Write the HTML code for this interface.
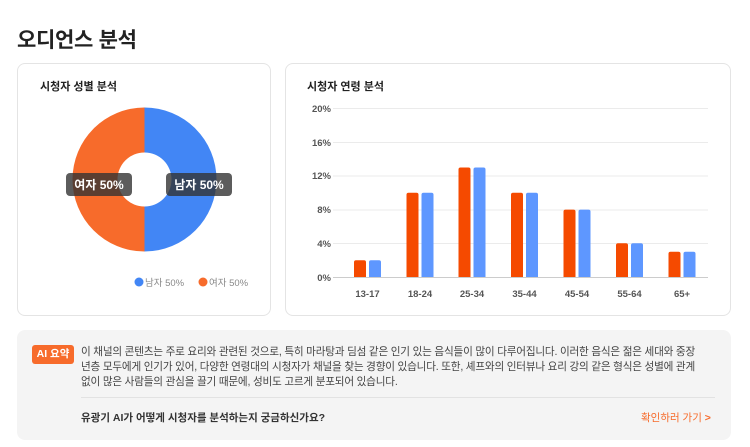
<!DOCTYPE html>
<html><head><meta charset="utf-8"><style>
*{margin:0;padding:0;box-sizing:border-box}
body{width:750px;height:447px;background:#fff;font-family:"Liberation Sans","Noto Sans CJK KR",sans-serif;color:#222;position:relative;overflow:hidden}
.abs{position:absolute}
.card{position:absolute;border:1px solid #e4e4e4;border-radius:8px;background:#fff}
</style></head><body>
<div class="abs" style="left:17px;top:24px;font-size:21px;font-weight:bold;color:#222;letter-spacing:-0.3px">오디언스 분석</div>
<div class="card" style="left:17px;top:63px;width:254px;height:253px"></div>
<div class="card" style="left:285px;top:63px;width:446px;height:253px"></div>
<div class="abs" style="left:40px;top:78px;font-size:11px;font-weight:bold">시청자 성별 분석</div>
<div class="abs" style="left:307px;top:78px;font-size:11px;font-weight:bold">시청자 연령 분석</div>
<svg class="abs" style="left:0;top:0" width="750" height="447">
<path d="M144.5 107.5 A72 72 0 0 1 144.5 251.5 L144.5 206.5 A27 27 0 0 0 144.5 152.5Z" fill="#4286f5"/>
<path d="M144.5 107.5 A72 72 0 0 0 144.5 251.5 L144.5 206.5 A27 27 0 0 1 144.5 152.5Z" fill="#f76b2b"/>
<rect x="66" y="173" width="66" height="23" rx="4" fill="#333" fill-opacity="0.8"/>
<rect x="166" y="173" width="66" height="23" rx="4" fill="#333" fill-opacity="0.8"/>
<text x="99" y="189" font-size="12" font-weight="bold" fill="#fff" text-anchor="middle">여자 50%</text>
<text x="199" y="189" font-size="12" font-weight="bold" fill="#fff" text-anchor="middle">남자 50%</text>
<circle cx="139" cy="282" r="4.5" fill="#4286f5"/>
<text x="145" y="286" font-size="9.5" fill="#888">남자 50%</text>
<circle cx="203" cy="282" r="4.5" fill="#f76b2b"/>
<text x="209" y="286" font-size="9.5" fill="#888">여자 50%</text>
<g stroke="#ebebeb" stroke-width="1">
<line x1="333" y1="108.5" x2="708" y2="108.5"/><line x1="333" y1="142.5" x2="708" y2="142.5"/>
<line x1="333" y1="176" x2="708" y2="176"/><line x1="333" y1="210" x2="708" y2="210"/>
<line x1="333" y1="243.5" x2="708" y2="243.5"/></g>
<line x1="333" y1="277.5" x2="708" y2="277.5" stroke="#ccc"/>
<g font-size="9.5" font-weight="bold" fill="#555" text-anchor="end">
<text x="331" y="112">20%</text><text x="331" y="146">16%</text><text x="331" y="179">12%</text>
<text x="331" y="213">8%</text><text x="331" y="247">4%</text><text x="331" y="281">0%</text></g>
<g font-size="9.5" font-weight="bold" fill="#555" text-anchor="middle">
<text x="367.5" y="297">13-17</text><text x="420" y="297">18-24</text><text x="472" y="297">25-34</text>
<text x="524.5" y="297">35-44</text><text x="577" y="297">45-54</text><text x="629.5" y="297">55-64</text><text x="682" y="297">65+</text></g>
<g>
<path d="M354 277V262.3a2 2 0 0 1 2-2h8a2 2 0 0 1 2 2V277Z" fill="#f54a00"/><path d="M369 277V262.3a2 2 0 0 1 2-2h8a2 2 0 0 1 2 2V277Z" fill="#5e97ff"/>
<path d="M406.5 277V194.8a2 2 0 0 1 2-2h8a2 2 0 0 1 2 2V277Z" fill="#f54a00"/><path d="M421.5 277V194.8a2 2 0 0 1 2-2h8a2 2 0 0 1 2 2V277Z" fill="#5e97ff"/>
<path d="M458.5 277V169.5a2 2 0 0 1 2-2h8a2 2 0 0 1 2 2V277Z" fill="#f54a00"/><path d="M473.5 277V169.5a2 2 0 0 1 2-2h8a2 2 0 0 1 2 2V277Z" fill="#5e97ff"/>
<path d="M511 277V194.8a2 2 0 0 1 2-2h8a2 2 0 0 1 2 2V277Z" fill="#f54a00"/><path d="M526 277V194.8a2 2 0 0 1 2-2h8a2 2 0 0 1 2 2V277Z" fill="#5e97ff"/>
<path d="M563.5 277V211.6a2 2 0 0 1 2-2h8a2 2 0 0 1 2 2V277Z" fill="#f54a00"/><path d="M578.5 277V211.6a2 2 0 0 1 2-2h8a2 2 0 0 1 2 2V277Z" fill="#5e97ff"/>
<path d="M616 277V245.3a2 2 0 0 1 2-2h8a2 2 0 0 1 2 2V277Z" fill="#f54a00"/><path d="M631 277V245.3a2 2 0 0 1 2-2h8a2 2 0 0 1 2 2V277Z" fill="#5e97ff"/>
<path d="M668.5 277V253.7a2 2 0 0 1 2-2h8a2 2 0 0 1 2 2V277Z" fill="#f54a00"/><path d="M683.5 277V253.7a2 2 0 0 1 2-2h8a2 2 0 0 1 2 2V277Z" fill="#5e97ff"/>
</g>
</svg>
<div class="abs" style="left:17px;top:330px;width:714px;height:110px;background:#f4f4f4;border-radius:8px"></div>
<div class="abs" style="left:32px;top:345px;width:42px;height:19px;background:#f76b2b;border-radius:3px;color:#fff;font-size:10.5px;font-weight:bold;text-align:center;line-height:19px">AI 요약</div>
<div class="abs" style="left:81px;top:345px;width:618px;font-size:10.6px;line-height:15px;color:#444;letter-spacing:-0.2px;word-break:break-all">이 채널의 콘텐츠는 주로 요리와 관련된 것으로, 특히 마라탕과 딤섬 같은 인기 있는 음식들이 많이 다루어집니다. 이러한 음식은 젊은 세대와 중장년층 모두에게 인기가 있어, 다양한 연령대의 시청자가 채널을 찾는 경향이 있습니다. 또한, 셰프와의 인터뷰나 요리 강의 같은 형식은 성별에 관계없이 많은 사람들의 관심을 끌기 때문에, 성비도 고르게 분포되어 있습니다.</div>
<div class="abs" style="left:81px;top:397px;width:634px;height:1px;background:#e2e2e2"></div>
<div class="abs" style="left:81px;top:410px;font-size:10.5px;font-weight:bold;color:#333">유광기 AI가 어떻게 시청자를 분석하는지 궁금하신가요?</div>
<div class="abs" style="left:641px;top:410px;font-size:10.5px;color:#f76b2b">확인하러 가기 <b>&gt;</b></div>
</body></html>
